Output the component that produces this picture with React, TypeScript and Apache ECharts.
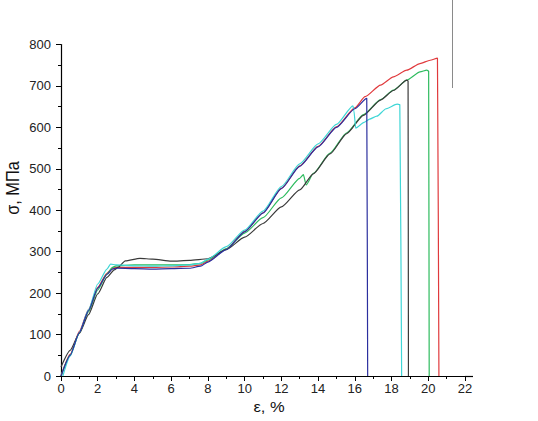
import React, { useEffect, useRef } from "react";
import * as echarts from "echarts";

// strain ε (%) vs stress σ (MPa) for five specimens
const curveRed: [number, number][] = [
  [0, 0], [0.5, 52], [1, 108], [1.5, 160], [2, 214], [2.5, 248], [2.8, 260], [3, 262], [4, 262], [5, 262], [6, 263], [7, 265], [7.6, 268], [8, 277], [9, 307], [10, 349], [11, 394], [12, 453], [13, 507], [14, 554], [15, 601], [16, 647], [16.56, 674], [17.4, 702], [18.1, 722], [18.83, 738], [19.55, 754], [20.1, 762], [20.5, 767], [20.58, 0],
];
const curveGreen: [number, number][] = [
  [0, 0], [0.5, 50], [1, 104], [1.5, 155], [2, 208], [2.5, 246], [2.8, 262], [3, 266], [4, 268], [5, 268], [6, 268], [7, 269], [7.6, 272], [8, 280], [9, 307], [10, 345], [11, 382], [12, 430], [13, 477], [13.2, 486], [13.35, 461], [13.74, 489], [14.65, 538], [15.56, 587], [16.47, 631], [17.4, 667], [18.1, 690], [18.83, 714], [19.55, 734], [19.92, 738], [20.02, 736], [20.05, 0],
];
const curveBlack: [number, number][] = [
  [0, 22], [0.5, 62], [1, 103], [1.5, 148], [2, 198], [2.5, 238], [2.9, 256], [3.1, 262], [3.5, 278], [4.3, 284], [5, 282], [6, 277], [7, 279], [8, 283], [9, 305], [10, 335], [11, 368], [12, 408], [13, 449], [13.74, 488], [14.65, 536], [15.56, 585], [16.47, 629], [17.4, 666], [18.1, 689], [18.83, 714], [18.9, 712], [18.92, 0],
];
const curveCyan: [number, number][] = [
  [0.1, 0], [0.5, 48], [1, 105], [1.5, 160], [2, 222], [2.5, 258], [2.7, 270], [3, 268], [4, 266], [5, 265], [6, 266], [7, 268], [7.6, 272], [8, 282], [9, 312], [10, 352], [11, 398], [12, 457], [13, 512], [14, 560], [15, 607], [15.9, 652], [15.95, 640], [16.05, 598], [16.5, 612], [16.8, 620], [17.2, 627], [17.7, 645], [18.3, 656], [18.45, 655], [18.55, 0],
];
const curveBlue: [number, number][] = [
  [0, 0], [0.5, 50], [1, 105], [1.5, 158], [2, 212], [2.5, 245], [2.8, 258], [3, 260], [4, 259], [5, 258], [6, 259], [7, 260], [7.6, 265], [8, 275], [9, 305], [10, 348], [11, 393], [12, 452], [13, 506], [14, 553], [15, 600], [16, 645], [16.65, 670], [16.7, 0],
];

const seriesNames = ["red", "green", "black", "cyan", "blue"];
const seriesColors = ["#e0393c", "#2dbb5e", "#3a3a3a", "#3fd6d6", "#2b2f9e"];
const seriesData = [curveRed, curveGreen, curveBlack, curveCyan, curveBlue];

const xTicks = { min: 0, max: 22, interval: 2 };
const yTicks = { min: 0, max: 800, interval: 100 };

export default function App() {
  const ref = useRef<HTMLDivElement>(null);
  useEffect(() => {
    if (!ref.current) return;
    const chart = echarts.init(ref.current, null, { renderer: "svg" });
    const font = "'Liberation Sans', Arial, sans-serif";
    chart.setOption({
      animation: false,
      backgroundColor: "#ffffff",
      grid: { left: 61, right: 73, top: 44.5, bottom: 45, containLabel: false },
      xAxis: {
        type: "value",
        min: xTicks.min,
        max: xTicks.max,
        interval: xTicks.interval,
        axisLine: { show: true, onZero: false, lineStyle: { color: "#000", width: 1.2 } },
        axisTick: { show: true, inside: false, length: 5, lineStyle: { color: "#000", width: 1 } },
        minorTick: { show: true, splitNumber: 2, length: 3, lineStyle: { color: "#000", width: 1 } },
        splitLine: { show: false },
        axisLabel: { color: "#222", fontSize: 13, fontFamily: font, margin: 6 },
      },
      yAxis: {
        type: "value",
        min: yTicks.min,
        max: yTicks.max,
        interval: yTicks.interval,
        axisLine: { show: true, onZero: false, lineStyle: { color: "#000", width: 1.2 } },
        axisTick: { show: true, inside: false, length: 5, lineStyle: { color: "#000", width: 1 } },
        minorTick: { show: true, splitNumber: 2, length: 3, lineStyle: { color: "#000", width: 1 } },
        splitLine: { show: false },
        axisLabel: { color: "#222", fontSize: 13, fontFamily: font, margin: 10 },
      },
      series: seriesData.map((d, i) => ({
        name: seriesNames[i],
        type: "line",
        data: d,
        showSymbol: false,
        smooth: 0.2,
        smoothMonotone: "x",
        lineStyle: { color: seriesColors[i], width: 1.2 },
        itemStyle: { color: seriesColors[i] },
        z: 2 + i,
      })),
      graphic: [
        {
          type: "text",
          x: 13,
          y: 188,
          rotation: Math.PI / 2,
          scaleX: 0.86,
          style: {
            text: "σ, МПа",
            fontSize: 19,
            fontFamily: font,
            fill: "#111",
            textAlign: "center",
            textVerticalAlign: "middle",
          },
        },
        {
          type: "text",
          x: 269,
          y: 407,
          scaleX: 1.1,
          style: {
            text: "ε, %",
            fontSize: 15,
            fontFamily: font,
            fill: "#111",
            textAlign: "center",
            textVerticalAlign: "middle",
          },
        },
        {
          type: "line",
          shape: { x1: 465, y1: 376.5, x2: 473, y2: 376.5 },
          style: { stroke: "#000", lineWidth: 1.2 },
        },
        {
          type: "line",
          shape: { x1: 452.5, y1: 0, x2: 452.5, y2: 88 },
          style: { stroke: "#8a8a8a", lineWidth: 1 },
        },
      ],
    });
    return () => chart.dispose();
  }, []);
  return (
    <div
      ref={ref}
      style={{ position: "fixed", left: 0, top: 0, width: 538, height: 421 }}
    />
  );
}
